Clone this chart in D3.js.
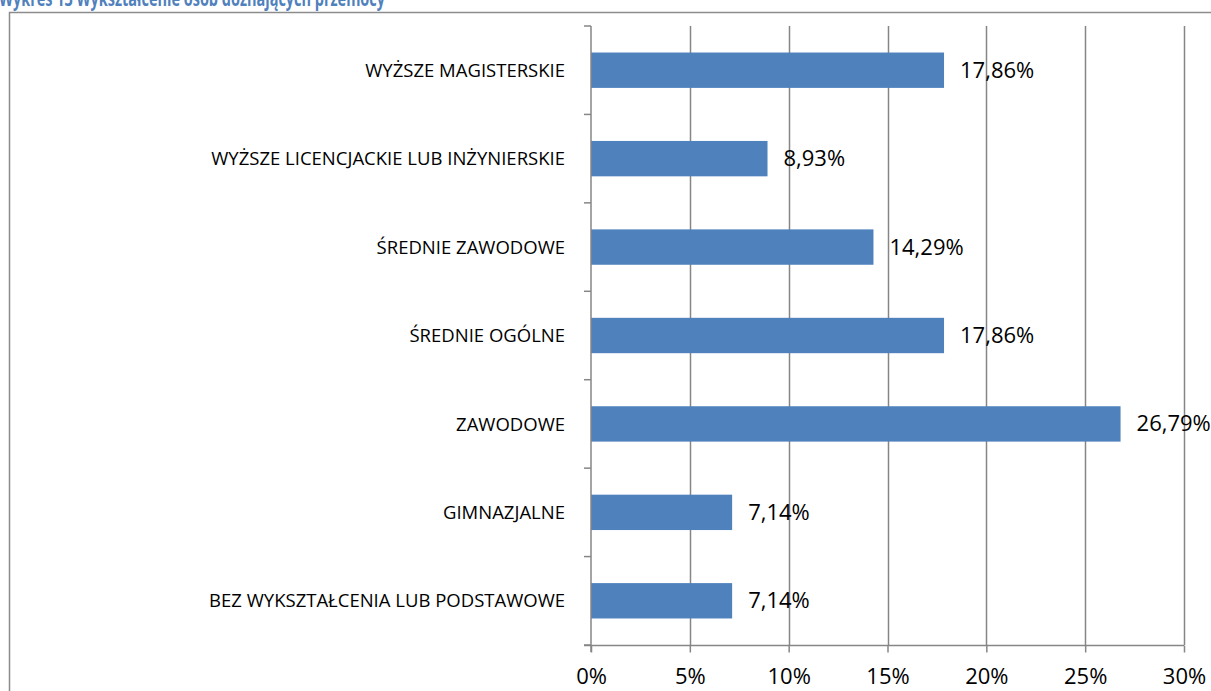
<!DOCTYPE html>
<meta charset="utf-8">
<style>
body { margin: 0; background: #fff; }
text { font-family: "Open Sans", sans-serif; }
</style>
<svg width="1211" height="691"></svg>
<script src="https://d3js.org/d3.v7.min.js"></script>
<script>

var categories = ["WYŻSZE MAGISTERSKIE", "WYŻSZE LICENCJACKIE LUB INŻYNIERSKIE", "ŚREDNIE ZAWODOWE",
                  "ŚREDNIE OGÓLNE", "ZAWODOWE", "GIMNAZJALNE", "BEZ WYKSZTAŁCENIA LUB PODSTAWOWE"];
var values = [17.86, 8.93, 14.29, 17.86, 26.79, 7.14, 7.14];
var valueLabels = ["17,86%", "8,93%", "14,29%", "17,86%", "26,79%", "7,14%", "7,14%"];
var xTicks = [0, 5, 10, 15, 20, 25, 30];
var title = "Wykres 13 Wykształcenie osób doznających przemocy";

var svg = d3.select("svg");

// frame of the chart (right and bottom edges run off the page)
svg.append("rect")
    .attr("x", 9.5).attr("y", 12.5)
    .attr("width", 1300).attr("height", 800)
    .attr("fill", "none")
    .attr("stroke", "#8c8c8c")
    .attr("stroke-width", 1.5);

svg.append("text")
    .attr("x", -1).attr("y", 6)
    .attr("fill", "#4f81bd")
    .attr("font-weight", "bold")
    .attr("font-size", 21)
    .attr("textLength", 386)
    .attr("lengthAdjust", "spacingAndGlyphs")
    .text(title);

var x = d3.scaleLinear().domain([0, 30]).range([591, 1184]);
var y = d3.scaleBand().domain(categories).range([26, 645]).paddingInner(0.6).paddingOuter(0.3);

// gridlines
svg.append("g").selectAll("line")
    .data(xTicks.slice(1))
    .enter().append("line")
    .attr("x1", function(d) { return Math.round(x(d)) + 0.5; })
    .attr("x2", function(d) { return Math.round(x(d)) + 0.5; })
    .attr("y1", 26).attr("y2", 645)
    .attr("stroke", "#868686")
    .attr("stroke-width", 1.5);

// bars
svg.append("g").selectAll("rect")
    .data(values)
    .enter().append("rect")
    .attr("x", x(0))
    .attr("y", function(d, i) { return y(categories[i]); })
    .attr("width", function(d) { return x(d) - x(0); })
    .attr("height", y.bandwidth())
    .attr("fill", "#4f81bd");

// value labels
svg.append("g").selectAll("text")
    .data(values)
    .enter().append("text")
    .attr("x", function(d) { return x(d) + 16; })
    .attr("y", function(d, i) { return y(categories[i]) + y.bandwidth() / 2; })
    .attr("dy", "0.34em")
    .attr("font-size", 22)
    .attr("fill", "#000")
    .text(function(d, i) { return valueLabels[i]; });

// bottom axis
var xAxis = d3.axisBottom(x)
    .tickValues(xTicks)
    .tickFormat(function(d) { return d + "%"; })
    .tickSize(7)
    .tickPadding(16);
var gx = svg.append("g").attr("transform", "translate(0,645.5)").call(xAxis);
gx.select(".domain").attr("stroke", "#868686").attr("stroke-width", 1.5).attr("d", "M584,0H1184");
gx.selectAll(".tick line").attr("stroke", "#868686").attr("stroke-width", 1.5);
gx.selectAll(".tick text").attr("font-size", 22).attr("fill", "#000")
    .style("font-family", "'Open Sans', sans-serif");

// left axis: ticks at band boundaries
var bounds = [26];
var step = (645 - 26) / categories.length;
categories.forEach(function(c, i) { bounds.push(26 + step * (i + 1)); });
var gy = svg.append("g");
gy.append("line")
    .attr("x1", 591).attr("x2", 591).attr("y1", 26).attr("y2", 652)
    .attr("stroke", "#868686").attr("stroke-width", 1.5);
gy.selectAll(".bt").data(bounds).enter().append("line")
    .attr("x1", 584).attr("x2", 591)
    .attr("y1", function(d) { return d; }).attr("y2", function(d) { return d; })
    .attr("stroke", "#868686").attr("stroke-width", 1.5);
gy.selectAll("text").data(categories).enter().append("text")
    .attr("x", 565)
    .attr("y", function(d) { return y(d) + y.bandwidth() / 2; })
    .attr("dy", "0.36em")
    .attr("text-anchor", "end")
    .attr("font-size", 18.5)
    .attr("fill", "#000")
    .text(function(d) { return d; });

</script>
